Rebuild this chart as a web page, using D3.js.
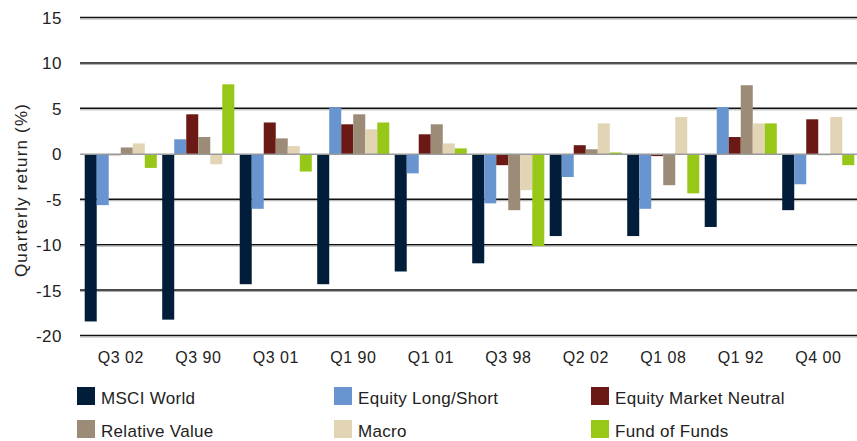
<!DOCTYPE html>
<html>
<head>
<meta charset="utf-8">
<script src="https://cdn.jsdelivr.net/npm/d3@7"></script>
<style>
  body { margin: 0; background: #fff; }
  text { font-family: "Liberation Sans", Arial, sans-serif; fill: #222; }
</style>
</head>
<body>
<script>
// Data
var quarters = ["Q3 02", "Q3 90", "Q3 01", "Q1 90", "Q1 01", "Q3 98", "Q2 02", "Q1 08", "Q1 92", "Q4 00"];
var seriesNames = ["MSCI World", "Equity Long/Short", "Equity Market Neutral", "Relative Value", "Macro", "Fund of Funds"];
var msciWorld   = [-18.4, -18.2, -14.3, -14.3, -12.9, -12.0, -9.0, -9.0, -8.0, -6.15];
var longShort   = [-5.6, 1.65, -6.0, 5.15, -2.1, -5.4, -2.5, -6.0, 5.2, -3.3];
var mktNeutral  = [-0.1, 4.4, 3.5, 3.3, 2.2, -1.2, 1.0, -0.2, 1.9, 3.85];
var relValue    = [0.75, 1.9, 1.75, 4.4, 3.3, -6.15, 0.55, -3.4, 7.6, -0.1];
var macro       = [1.2, -1.1, 0.9, 2.75, 1.2, -3.95, 3.4, 4.1, 3.4, 4.1];
var fundOfFunds = [-1.5, 7.7, -1.9, 3.5, 0.65, -10.1, 0.2, -4.3, 3.4, -1.2];
var yTicks = [15, 10, 5, 0, -5, -10, -15, -20];
var colors = ["#011d3a", "#6895d0", "#6b1914", "#9c8b76", "#e2d5b6", "#97c817"];

var allSeries = [msciWorld, longShort, mktNeutral, relValue, macro, fundOfFunds];

//Width and height
var width = 857;
var height = 441;
var plotLeft = 82, plotRight = 857, plotTop = 18, plotBottom = 336;

var svg = d3.select("body")
            .append("svg")
            .attr("width", width)
            .attr("height", height);

var y = d3.scaleLinear()
          .domain([-20, 15])
          .range([plotBottom, plotTop]);

var x0 = d3.scaleBand()
           .domain(quarters)
           .range([plotLeft, plotRight])
           .paddingInner(0.07)
           .paddingOuter(0.035);

var x1 = d3.scaleBand()
           .domain(d3.range(seriesNames.length))
           .range([0, x0.bandwidth()]);

//Gridlines
var grid = svg.append("g");
grid.selectAll("line.g1")
    .data(yTicks.filter(d => d !== 0))
    .enter()
    .append("line")
    .attr("x1", plotLeft - 2).attr("x2", plotRight)
    .attr("y1", d => y(d) - 0.5).attr("y2", d => y(d) - 0.5)
    .attr("stroke", "#111").attr("stroke-width", 1.5);
grid.selectAll("line.g2")
    .data(yTicks.filter(d => d !== 0))
    .enter()
    .append("line")
    .attr("x1", plotLeft - 2).attr("x2", plotRight)
    .attr("y1", d => y(d) + 1).attr("y2", d => y(d) + 1)
    .attr("stroke", "#aaa").attr("stroke-width", 1);

//Tick labels
svg.selectAll("text.ytick")
   .data(yTicks)
   .enter()
   .append("text")
   .attr("x", 62)
   .attr("y", d => y(d) + 6)
   .attr("text-anchor", "end")
   .style("font-size", "17px")
   .style("letter-spacing", "0.5px")
   .text(d => d);

//Bars
var groups = svg.selectAll("g.grp")
   .data(quarters)
   .enter()
   .append("g")
   .attr("transform", d => "translate(" + x0(d) + ",0)");

groups.selectAll("rect")
   .data((q, i) => allSeries.map((s, k) => ({k: k, v: s[i]})))
   .enter()
   .append("rect")
   .attr("x", d => x1(d.k))
   .attr("width", x1.bandwidth())
   .attr("y", d => y(Math.max(0, d.v)))
   .attr("height", d => Math.abs(y(d.v) - y(0)))
   .style("fill", d => colors[d.k]);

//Zero line
svg.append("line")
   .attr("x1", plotLeft - 2).attr("x2", plotRight)
   .attr("y1", y(0)).attr("y2", y(0))
   .attr("stroke", "#999").attr("stroke-width", 1.5);

//X labels
svg.selectAll("text.xlab")
   .data(quarters)
   .enter()
   .append("text")
   .attr("x", d => x0(d) + x0.bandwidth() / 2)
   .attr("y", 363)
   .attr("text-anchor", "middle")
   .style("font-size", "16px")
   .style("letter-spacing", "0.5px")
   .text(d => d);

//Y title
svg.append("text")
   .attr("transform", "translate(27,190) rotate(-90)")
   .attr("text-anchor", "middle")
   .style("font-size", "17px")
   .style("letter-spacing", "1.2px")
   .text("Quarterly return (%)");

//Legend
var legX = [77, 334, 591];
var legY = [387, 420];
var legend = svg.selectAll("g.leg")
   .data(seriesNames)
   .enter()
   .append("g")
   .attr("transform", (d, i) => "translate(" + legX[i % 3] + "," + legY[Math.floor(i / 3)] + ")");
legend.append("rect")
   .attr("width", 18).attr("height", 18)
   .style("fill", (d, i) => colors[i]);
legend.append("text")
   .attr("x", 24).attr("y", 17)
   .style("font-size", "17px")
   .style("letter-spacing", "0.3px")
   .text(d => d);
</script>
</body>
</html>
